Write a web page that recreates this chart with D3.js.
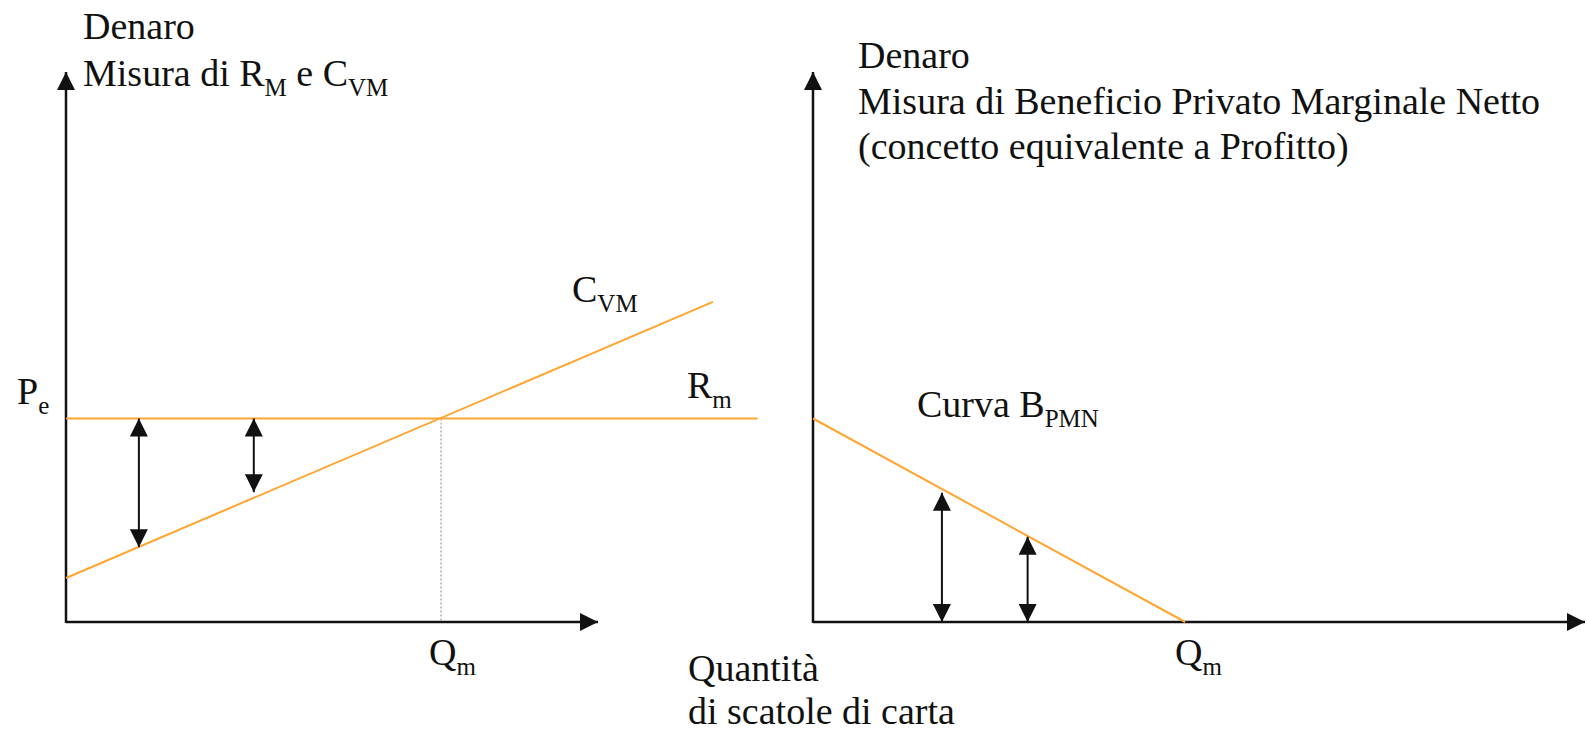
<!DOCTYPE html>
<html>
<head>
<meta charset="utf-8">
<script src="https://cdn.jsdelivr.net/npm/d3@7"></script>
<style>
  body { margin: 0; background: #fff; }
  svg text { font-family: "Liberation Serif", "DejaVu Serif", serif; fill: #111; white-space: pre; }
</style>
</head>
<body>
<script>
// =======================
// Rm / Cvm  and  net private marginal benefit
// values are in axis units: 0-10 along each axis
// =======================

const peLevel = 3.7;                       // Pe = Rm
const rmEnd = 13.0;
const cvmPoints = [[0, 0.8], [12.16, 5.82]];
const qmLeft = 7.05;
const leftArrows = [[1.37, 3.7, 1.36], [3.53, 3.7, 2.36]];   // [q, from, to]

const bpmnPoints = [[0, 3.7], [4.82, 0]];
const rightArrows = [[1.67, 0, 2.35], [2.78, 0, 1.55]];

const leftTitle = [[["Denaro"]], [["Misura di R"], ["M", 1], [" e C"], ["VM", 1]]];
const rightTitle = [[["Denaro"]], [["Misura di Beneficio Privato Marginale Netto"]], [["(concetto equivalente a Profitto)"]]];
const xTitle = ["Quantità", "di scatole di carta"];

const orange = "#ffa530";

const svg = d3.select("body")
  .append("svg")
    .attr("width", 1587)
    .attr("height", 732);

const defs = svg.append("defs");
defs.append("marker")
    .attr("id", "head")
    .attr("viewBox", "0 0 10 10")
    .attr("refX", 10)
    .attr("refY", 5)
    .attr("markerUnits", "userSpaceOnUse")
    .attr("markerWidth", 18)
    .attr("markerHeight", 18)
    .attr("orient", "auto-start-reverse")
  .append("path")
    .attr("d", "M0,0 L10,5 L0,10 z")
    .style("fill", "#111");

// Scales
const y = d3.scaleLinear().domain([0, 10]).range([622, 72]);
const xLeft = d3.scaleLinear().domain([0, 10]).range([66, 598]);
const xRight = d3.scaleLinear().domain([0, 10]).range([813, 1585]);

// text with subscripts
function label(x0, y0, parts, size = 38) {
  const t = svg.append("text")
    .attr("x", x0)
    .attr("y", y0)
    .style("font-family", "'Liberation Serif', 'DejaVu Serif', serif")
    .style("font-size", size + "px");
  let down = false;
  parts.forEach(p => {
    const sub = !!p[1];
    t.append("tspan")
      .attr("dy", sub && !down ? 10 : (!sub && down ? -10 : 0))
      .style("font-size", sub ? "25px" : size + "px")
      .text(p[0]);
    down = sub;
  });
  return t;
}

function axes(x) {
  svg.append("line")
    .attr("x1", x(0)).attr("y1", y(0))
    .attr("x2", x(10)).attr("y2", y(0))
    .style("stroke", "#111").style("stroke-width", 2.5)
    .attr("marker-end", "url(#head)");
  svg.append("line")
    .attr("x1", x(0)).attr("y1", y(0) + 1)
    .attr("x2", x(0)).attr("y2", y(10))
    .style("stroke", "#111").style("stroke-width", 2.5)
    .attr("marker-end", "url(#head)");
}

function arrows(x, data) {
  svg.selectAll(null)
    .data(data)
    .enter()
    .append("line")
      .attr("x1", d => x(d[0])).attr("y1", d => y(d[1]))
      .attr("x2", d => x(d[0])).attr("y2", d => y(d[2]))
      .style("stroke", "#111")
      .style("stroke-width", 2)
      .attr("marker-start", "url(#head)")
      .attr("marker-end", "url(#head)");
}

const line = x => d3.line().x(d => x(d[0])).y(d => y(d[1]));

// ---- left panel
axes(xLeft);

svg.append("line")
  .attr("x1", xLeft(qmLeft)).attr("y1", y(peLevel))
  .attr("x2", xLeft(qmLeft)).attr("y2", y(0))
  .style("stroke", "#888")
  .style("stroke-width", 1)
  .style("stroke-dasharray", "2,2");

svg.append("path")
  .attr("d", line(xLeft)([[0, peLevel], [rmEnd, peLevel]]))
  .style("fill", "none").style("stroke", orange).style("stroke-width", 2);

svg.append("path")
  .attr("d", line(xLeft)(cvmPoints))
  .style("fill", "none").style("stroke", orange).style("stroke-width", 2);

arrows(xLeft, leftArrows);

leftTitle.forEach((l, i) => label(83, 39 + i * 47, l));
label(17, y(peLevel) - 15, [["P"], ["e", 1]]);
label(687, y(peLevel) - 21, [["R"], ["m", 1]]);
label(572, 302, [["C"], ["VM", 1]]);
label(xLeft(qmLeft) - 12, 665, [["Q"], ["m", 1]]);

// ---- right panel
axes(xRight);

svg.append("path")
  .attr("d", line(xRight)(bpmnPoints))
  .style("fill", "none").style("stroke", orange).style("stroke-width", 2);

arrows(xRight, rightArrows);

rightTitle.forEach((l, i) => label(858, 68 + i * 45.5, l));
label(917, 417, [["Curva B"], ["PMN", 1]]);
label(xRight(bpmnPoints[1][0]) - 10, 665, [["Q"], ["m", 1]]);

xTitle.forEach((t, i) => label(688, 681 + i * 43, [[t]]));
</script>
</body>
</html>
